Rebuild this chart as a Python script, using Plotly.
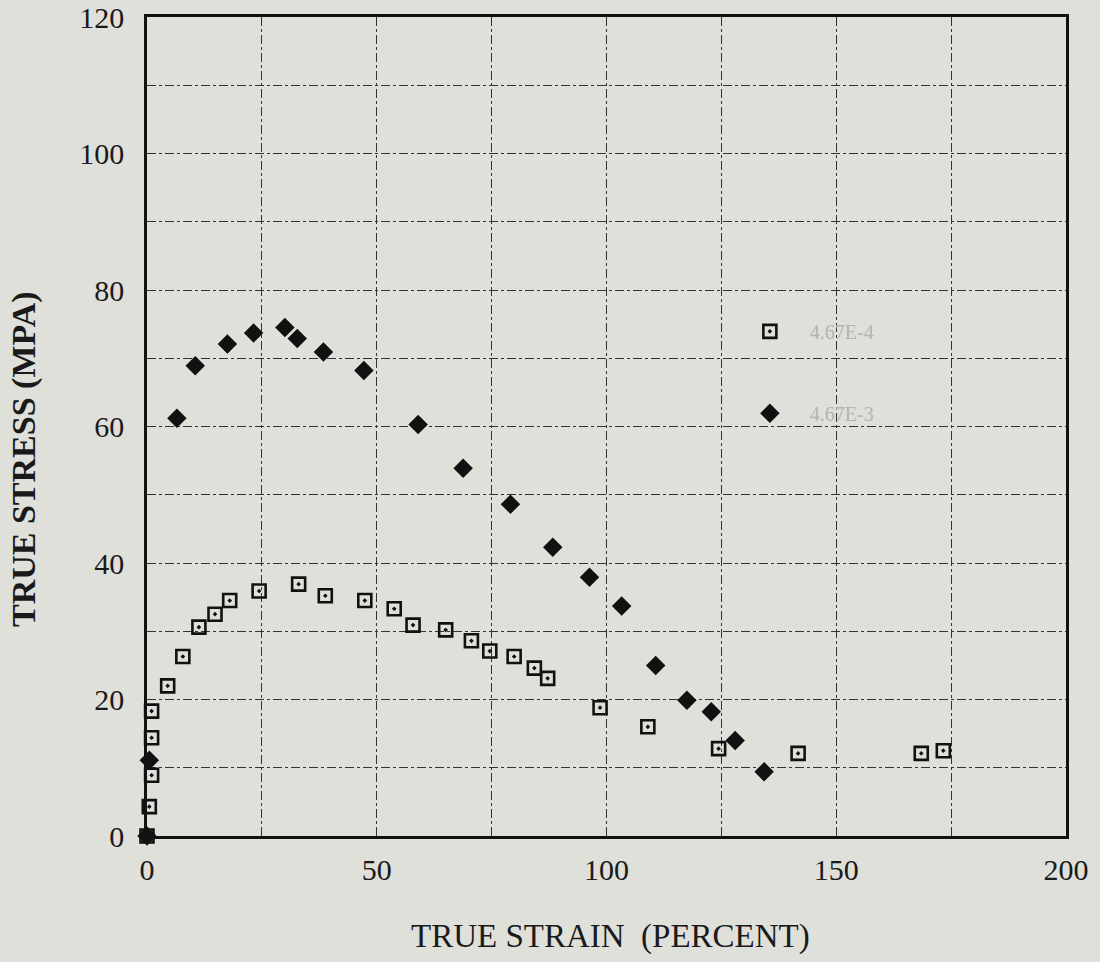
import plotly.graph_objects as go

# Series A (open squares)
sq_x = [0, 0.5, 1.0, 1.0, 1.0, 4.5, 7.8, 11.3, 14.8, 18.0, 24.4, 33.0, 38.8, 47.4, 53.8,
        57.9, 65.0, 70.6, 74.6, 79.9, 84.3, 87.2, 98.6, 109.0, 124.4, 141.7, 168.5, 173.3]
sq_y = [0, 4.3, 8.9, 14.4, 18.3, 22.0, 26.3, 30.6, 32.5, 34.5, 35.9, 36.9, 35.2, 34.5, 33.3,
        30.9, 30.2, 28.6, 27.1, 26.3, 24.6, 23.1, 18.8, 16.0, 12.8, 12.1, 12.1, 12.5]

# Series B (filled diamonds)
di_x = [0, 0.5, 6.5, 10.5, 17.5, 23.2, 30.0, 32.7, 38.4, 47.2, 59.0, 68.8, 79.1, 88.3,
        96.3, 103.3, 110.7, 117.5, 122.8, 128.0, 134.3]
di_y = [0, 11.1, 61.2, 68.9, 72.1, 73.7, 74.5, 72.9, 70.9, 68.2, 60.3, 53.9, 48.6, 42.3,
        37.9, 33.7, 25.0, 19.9, 18.2, 14.0, 9.4]

names = ["4.67E-4", "4.67E-3"]
x_ticks = [0, 50, 100, 150, 200]
y_ticks = [0, 20, 40, 60, 80, 100, 120]

BG = "#dfe0da"
font = "Liberation Serif"

fig = go.Figure()
fig.add_trace(go.Scatter(
    x=sq_x, y=sq_y, mode="markers", name="    " + names[0], legendgroup="a",
    cliponaxis=False,
    marker=dict(symbol="square-open-dot", size=13, color="#111111",
                line=dict(width=2.6, color="#111111")),
))
fig.add_trace(go.Scatter(
    x=di_x, y=di_y, mode="markers", name="    " + names[1], legendgroup="b",
    cliponaxis=False,
    marker=dict(symbol="diamond", size=15, color="#111111",
                line=dict(width=0)),
))

fig.update_layout(
    width=1100, height=962,
    paper_bgcolor=BG, plot_bgcolor=BG,
    margin=dict(l=147, r=34, t=17, b=126),
    font=dict(family=font, color="#1a1a1a"),
    showlegend=True,
    legend=dict(
        x=0.656, y=0.640, xanchor="left", yanchor="top",
        bgcolor="rgba(0,0,0,0)", font=dict(size=20, color="#b4b4b0"),
        tracegroupgap=53,
    ),
    xaxis=dict(
        range=[0, 200], tickvals=x_ticks, ticktext=[str(v) for v in x_ticks],
        showline=True, linecolor="#111111", linewidth=2.5, mirror=True,
        ticks="", ticklabelstandoff=5, automargin=False,
        tickfont=dict(size=30, family=font, color="#1a1a1a"),
        showgrid=False, zeroline=False,
        minor=dict(dtick=25, tick0=0, showgrid=True, gridcolor="#333333",
                   gridwidth=1.2, griddash="dashdot"),
    ),
    yaxis=dict(
        range=[0, 120], tickvals=y_ticks, ticktext=[str(v) for v in y_ticks],
        showline=True, linecolor="#111111", linewidth=2.5, mirror=True,
        ticks="", ticklabelstandoff=14, automargin=False,
        tickfont=dict(size=30, family=font, color="#1a1a1a"),
        showgrid=False, zeroline=False,
        minor=dict(dtick=10, tick0=0, showgrid=True, gridcolor="#333333",
                   gridwidth=1.2, griddash="dashdot"),
    ),
    annotations=[
        dict(text="TRUE STRAIN  (PERCENT)", xref="paper", yref="paper",
             x=(610 - 147) / 919, y=-(936 - 836) / 819, xanchor="center", yanchor="middle",
             showarrow=False, font=dict(size=33, family=font, color="#1a1a1a")),
        dict(text="<b>TRUE STRESS (MPA)</b>", xref="paper", yref="paper", textangle=-90,
             x=(24 - 147) / 919, y=(836 - 459) / 819, xanchor="center", yanchor="middle",
             showarrow=False, font=dict(size=34, family=font, color="#1a1a1a")),
    ],
)

fig.write_html("out.html")
